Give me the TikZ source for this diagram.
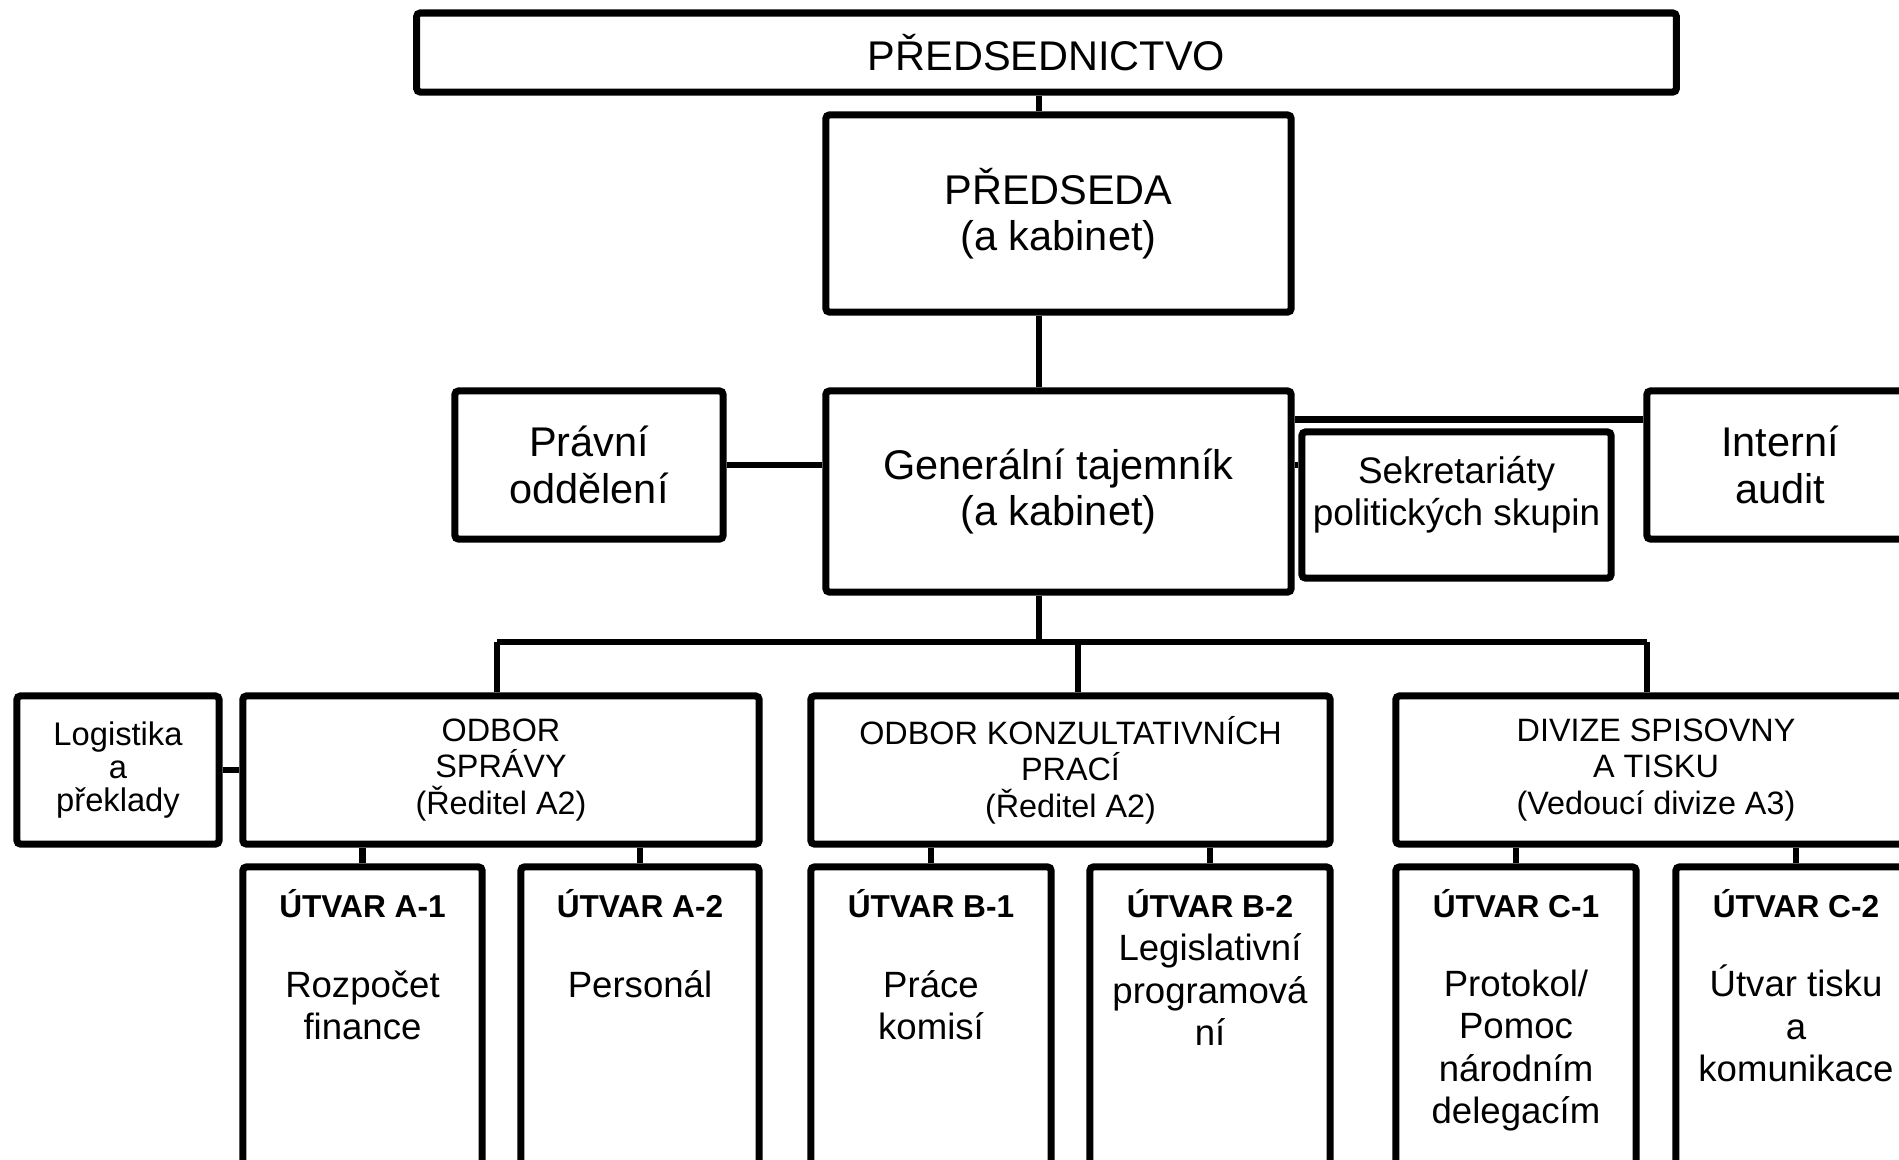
\documentclass[tikz,border=0pt]{standalone}
\usepackage{fontspec}
\setmainfont{Liberation Sans}
\usetikzlibrary{positioning}

\newcommand{\orgBig}{\fontsize{11.8pt}{13.2pt}\selectfont}
\newcommand{\orgMid}{\fontsize{10.5pt}{12pt}\selectfont}
\newcommand{\orgDept}{\fontsize{9.2pt}{10.4pt}\selectfont}
\newcommand{\orgSmall}{\fontsize{9.3pt}{9.4pt}\selectfont}
\newcommand{\orgBody}{\fontsize{10.4pt}{11.95pt}\selectfont}
\newcommand{\orgTitle}{\bfseries\fontsize{9pt}{10pt}\selectfont}

\tikzset{
    orgbox/.style={
        rectangle,
        draw=black,
        line width=2pt,
        rounded corners=1pt,
        fill=white,
        inner sep=0pt,
        align=center
    },
    bigbox/.style={
        orgbox,
        font=\orgBig
    },
    deptbox/.style={
        orgbox,
        font=\orgDept,
        minimum height=1.48cm
    },
    unitbox/.style={
        orgbox,
        minimum height=3.33cm
    },
    unitTitle/.style={
        anchor=base,
        inner sep=0pt,
        font=\orgTitle
    },
    unitBody/.style={
        anchor=base,
        inner sep=0pt,
        align=center,
        font=\orgBody
    },
    link/.style={
        line width=1.8pt
    }
}

\begin{document}
\begin{tikzpicture}[x=0.01cm,y=-0.01cm]
    \useasboundingbox (0,0) rectangle (1899,1159);
    \clip (0,0) rectangle (1899,1159);
    % top of the chart
    \node [bigbox,minimum width=12.59cm,minimum height=0.79cm] (presidium) at (1046.5,52.5) {PŘEDSEDNICTVO};
    \node [bigbox,minimum width=4.65cm,minimum height=1.97cm] (predseda) at (1058.5,213.5) {PŘEDSEDA\\(a kabinet)};
    \node [bigbox,minimum width=4.65cm,minimum height=2.01cm] (gensec) at (1058.5,491.5) {Generální tajemník\\(a kabinet)};
    \node [bigbox,minimum width=2.68cm,minimum height=1.48cm] (legal) at (589,465) {Právní\\oddělení};
    \node [bigbox,minimum width=2.66cm,minimum height=1.48cm] (audit) at (1780,465) {Interní\\audit};
    \node [orgbox,minimum width=3.09cm,minimum height=1.46cm] (secretariats) at (1456.5,505) {};
    \node [font=\orgMid,align=center,inner sep=0pt] (secretariatsText) at (1456.5,495) {Sekretariáty\\politických skupin};

    % departments
    \node [orgbox,font=\orgSmall,minimum width=2.02cm,minimum height=1.48cm] (logistics) at (118,770) {Logistika\\a\\překlady};
    \node [deptbox,minimum width=5.16cm] (adminDept) at (501,770) {ODBOR\\SPRÁVY\\(Ředitel A2)};
    \node [deptbox,minimum width=5.19cm] (consultDept) at (1070.5,770) {ODBOR KONZULTATIVNÍCH\\PRACÍ\\(Ředitel A2)};
    \node [deptbox,minimum width=5.20cm] (registryDept) at (1656,770) {DIVIZE SPISOVNY\\A TISKU\\(Vedoucí divize A3)};

    % units
    \node [unitbox,minimum width=2.39cm] (unitA1) at (362.5,1033.5) {};
    \node [unitbox,minimum width=2.38cm] (unitA2) at (640,1033.5) {};
    \node [unitbox,minimum width=2.40cm] (unitB1) at (931,1033.5) {};
    \node [unitbox,minimum width=2.40cm] (unitB2) at (1210,1033.5) {};
    \node [unitbox,minimum width=2.40cm] (unitC1) at (1516,1033.5) {};
    \node [unitbox,minimum width=2.40cm] (unitC2) at (1796,1033.5) {};

    \node [unitTitle] (titleA1) at (362.5,917) {ÚTVAR A-1};
    \node [unitTitle] (titleA2) at (640,917) {ÚTVAR A-2};
    \node [unitTitle] (titleB1) at (931,917) {ÚTVAR B-1};
    \node [unitTitle] (titleB2) at (1210,917) {ÚTVAR B-2};
    \node [unitTitle] (titleC1) at (1516,917) {ÚTVAR C-1};
    \node [unitTitle] (titleC2) at (1796,917) {ÚTVAR C-2};

    % base of a body text is its last line
    \node [unitBody] (bodyA1) at (362.5,1039) {Rozpočet\\finance};
    \node [unitBody] (bodyA2) at (640,997) {Personál};
    \node [unitBody] (bodyB1) at (931,1039) {Práce\\komisí};
    \node [unitBody] (bodyB2) at (1210,1045) {Legislativní\\programová\\ní};
    \node [unitBody] (bodyC1) at (1516,1123) {Protokol/\\Pomoc\\národním\\delegacím};
    \node [unitBody] (bodyC2) at (1796,1081) {Útvar tisku\\a\\komunikace};

    % connectors
    \coordinate (spine) at (1039,0);
    \coordinate (auditLink) at ([yshift=-0.32cm]audit.north west);
    \coordinate (busA) at (497,642);
    \coordinate (busB) at (1078,642);
    \coordinate (busC) at (1647,642);
    \draw [link] (presidium.south -| spine) -- (predseda.north -| spine);
    \draw [link] (predseda.south -| spine) -- (gensec.north -| spine);
    \draw [link] (legal.east) -- (legal.east -| gensec.west);
    \draw [link] (auditLink) -- (auditLink -| gensec.east);
    \draw [link] (gensec.east |- legal.east) -- (secretariats.west |- legal.east);
    \draw [link] (gensec.south -| spine) -- (spine |- busA);
    \draw [link] (busA) -- (busC);
    \draw [link] (busA) -- (busA |- adminDept.north);
    \draw [link] (busB) -- (busB |- consultDept.north);
    \draw [link] (busC) -- (busC |- registryDept.north);
    \draw [link] (logistics.east) -- (adminDept.west);
    \draw [link] (adminDept.south -| unitA1.north) -- (unitA1.north);
    \draw [link] (adminDept.south -| unitA2.north) -- (unitA2.north);
    \draw [link] (consultDept.south -| unitB1.north) -- (unitB1.north);
    \draw [link] (consultDept.south -| unitB2.north) -- (unitB2.north);
    \draw [link] (registryDept.south -| unitC1.north) -- (unitC1.north);
    \draw [link] (registryDept.south -| unitC2.north) -- (unitC2.north);
\end{tikzpicture}
\end{document}
